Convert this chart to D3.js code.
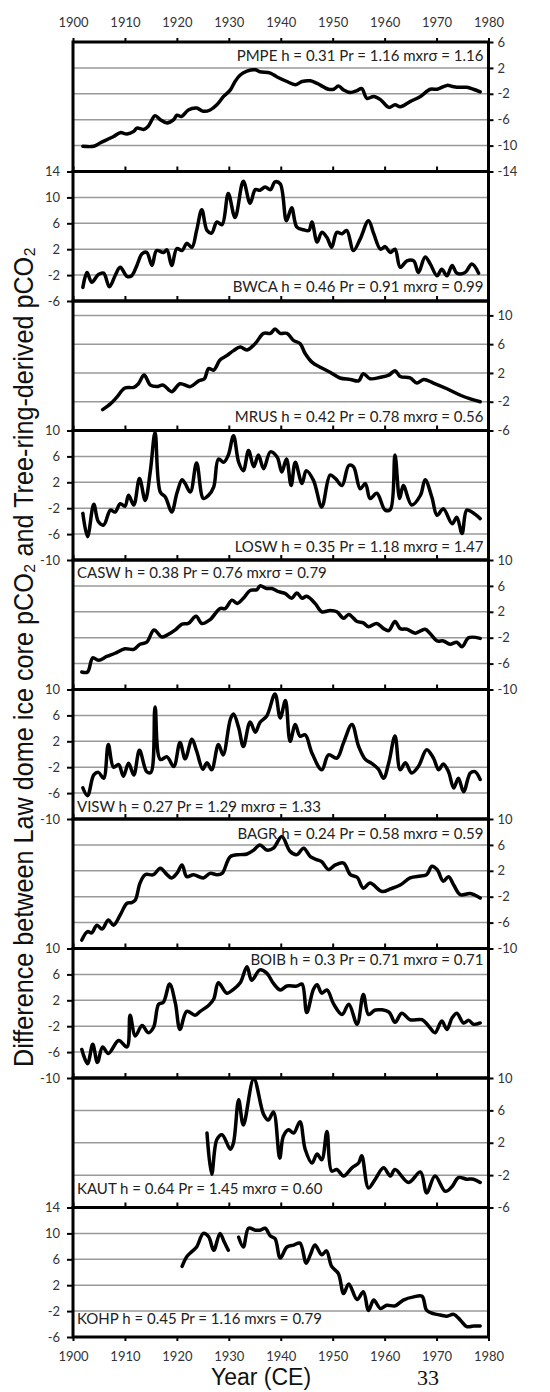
<!DOCTYPE html>
<html>
<head>
<meta charset="utf-8">
<script src="https://cdn.jsdelivr.net/npm/d3@7"></script>
<style>
  body { margin: 0; background: #fff; }
</style>
</head>
<body>
<svg id="chart" width="550" height="1392"></svg>
<script>
// series values: [year, difference in ppm]
const pmpe = [[1901.9,-10.1],[1904.0,-10.1],[1905.2,-9.6],[1907.8,-8.6],[1909.1,-8.0],[1910.4,-8.2],[1911.7,-7.8],[1912.3,-7.3],[1913.6,-7.5],[1914.5,-7.0],[1915.8,-5.4],[1916.8,-6.0],[1918.1,-6.5],[1919.4,-6.0],[1920.0,-5.3],[1920.9,-5.5],[1922.2,-4.5],[1923.8,-4.2],[1925.1,-4.7],[1926.4,-4.5],[1927.7,-3.7],[1929.0,-2.4],[1930.3,-1.4],[1931.2,-0.1],[1932.2,0.9],[1933.5,1.5],[1935.1,1.7],[1936.0,1.4],[1938.0,1.2],[1939.3,0.6],[1941.2,-0.1],[1942.8,-0.6],[1944.1,-0.1],[1945.7,0.0],[1947.0,-0.4],[1949.2,-1.3],[1950.2,-1.3],[1951.1,-0.8],[1952.1,-1.4],[1953.4,-1.8],[1954.7,-1.5],[1955.6,-1.2],[1956.6,-2.7],[1957.9,-2.4],[1959.2,-2.9],[1960.8,-4.1],[1962.0,-3.7],[1963.0,-4.0],[1964.9,-3.2],[1966.9,-2.4],[1968.8,-1.3],[1970.1,-1.3],[1972.0,-0.7],[1973.3,-0.9],[1974.6,-1.0],[1975.8,-1.0],[1977.1,-1.3],[1978.4,-1.7]];
const bwca = [[1901.9,-3.9],[1902.7,-1.6],[1903.6,-3.1],[1904.9,-1.9],[1905.9,-1.7],[1907.0,-3.8],[1908.1,-2.1],[1909.1,-0.8],[1910.4,-2.2],[1911.3,-2.1],[1912.3,-0.5],[1913.3,1.3],[1914.2,1.5],[1915.2,-0.5],[1916.1,1.8],[1917.4,1.5],[1918.1,1.9],[1919.0,-0.5],[1920.0,2.1],[1921.0,1.8],[1921.9,2.9],[1922.9,2.3],[1923.8,4.9],[1924.8,8.1],[1925.8,4.9],[1926.7,4.5],[1927.7,6.2],[1928.7,5.8],[1929.9,10.6],[1931.2,6.9],[1932.8,12.5],[1934.1,9.1],[1935.1,11.2],[1936.0,11.1],[1937.0,11.6],[1938.0,11.2],[1938.9,12.4],[1939.9,12.1],[1941.1,6.4],[1942.1,8.4],[1943.1,5.4],[1944.4,5.0],[1945.4,4.9],[1946.0,6.2],[1947.0,3.1],[1947.9,4.6],[1948.9,3.8],[1949.8,2.3],[1950.8,4.6],[1951.8,4.4],[1952.7,4.9],[1954.0,1.8],[1955.3,3.6],[1956.9,6.4],[1957.9,4.4],[1959.2,2.0],[1960.1,2.4],[1961.1,1.5],[1962.0,2.0],[1963.0,-0.8],[1964.3,0.2],[1965.6,0.2],[1966.5,-1.6],[1967.8,0.8],[1968.8,-0.3],[1970.1,-2.1],[1971.0,-1.1],[1972.0,-2.1],[1973.0,-0.5],[1973.9,-1.7],[1975.5,-1.6],[1976.8,-0.3],[1978.1,-1.7]];
const mrus = [[1905.7,-3.1],[1907.2,-2.3],[1908.4,-1.4],[1910.0,-0.1],[1911.7,0.0],[1912.6,0.5],[1913.7,1.7],[1914.9,0.3],[1916.1,0.1],[1917.4,0.3],[1919.0,-0.6],[1920.6,0.5],[1922.6,0.1],[1924.2,0.9],[1925.3,1.2],[1926.1,2.6],[1927.1,2.4],[1928.3,3.8],[1929.6,4.4],[1930.9,5.1],[1932.2,5.6],[1933.5,5.2],[1935.1,6.1],[1936.7,7.5],[1938.0,7.5],[1938.9,8.1],[1939.9,7.5],[1941.2,7.5],[1942.5,6.5],[1943.7,6.1],[1944.7,4.7],[1946.0,3.5],[1947.6,2.8],[1949.5,2.1],[1951.4,1.3],[1953.4,1.1],[1955.0,0.9],[1955.9,1.9],[1957.2,1.2],[1959.2,1.4],[1960.8,1.7],[1962.0,2.3],[1963.0,1.5],[1964.9,1.3],[1966.2,0.6],[1967.5,1.1],[1969.4,0.6],[1972.0,-0.2],[1974.6,-1.1],[1976.5,-1.6],[1978.4,-2.0]];
const losw = [[1901.9,-2.8],[1902.8,-6.4],[1904.0,-1.4],[1904.9,-4.1],[1905.9,-4.6],[1907.2,-2.3],[1908.1,-2.6],[1909.1,-1.3],[1910.0,-1.7],[1910.7,0.0],[1911.7,-1.5],[1912.8,2.6],[1913.9,-0.8],[1914.9,3.8],[1915.8,9.7],[1916.8,0.5],[1917.8,-0.3],[1919.0,-2.6],[1920.0,0.3],[1921.0,2.4],[1921.6,1.8],[1922.6,0.5],[1923.8,5.0],[1925.1,-0.5],[1926.1,0.0],[1927.1,1.3],[1928.0,5.6],[1929.0,5.1],[1929.9,6.2],[1930.9,9.2],[1931.9,5.1],[1932.8,3.8],[1933.8,6.9],[1934.8,4.4],[1935.7,6.2],[1936.7,4.1],[1938.0,6.7],[1939.3,5.9],[1940.2,3.6],[1941.1,5.6],[1942.0,1.5],[1942.8,5.1],[1944.1,1.8],[1944.9,3.8],[1946.3,2.3],[1947.9,-1.8],[1949.5,3.1],[1950.5,2.6],[1951.8,1.5],[1953.1,4.6],[1954.0,4.4],[1955.3,1.0],[1956.3,1.8],[1957.2,-0.5],[1958.5,0.3],[1960.1,-2.3],[1961.1,-2.2],[1962.0,6.2],[1962.9,-0.5],[1963.6,1.5],[1965.2,-1.5],[1966.9,0.0],[1967.8,2.4],[1969.1,-0.3],[1970.1,-3.1],[1971.3,-2.1],[1973.0,-4.4],[1973.9,-3.4],[1974.9,-5.9],[1975.8,-2.3],[1976.8,-2.6],[1978.4,-3.6]];
const casw = [[1901.7,-7.3],[1902.8,-7.3],[1903.8,-5.1],[1904.9,-5.5],[1906.5,-4.9],[1908.1,-4.4],[1910.0,-3.7],[1911.7,-3.8],[1912.9,-3.0],[1914.2,-2.7],[1915.6,-0.8],[1917.1,-1.9],[1918.1,-1.6],[1919.7,-0.8],[1921.0,0.1],[1922.2,0.2],[1923.7,1.3],[1924.8,0.2],[1926.4,0.8],[1928.3,2.5],[1929.3,2.5],[1930.6,3.8],[1931.6,3.3],[1932.8,4.1],[1934.1,5.3],[1935.4,5.4],[1936.0,6.0],[1937.3,5.6],[1938.3,5.6],[1939.6,5.1],[1940.9,4.8],[1942.1,4.1],[1943.1,4.9],[1944.1,4.1],[1945.0,4.4],[1946.6,3.3],[1947.9,2.0],[1949.5,2.2],[1950.8,2.0],[1952.1,1.0],[1953.1,1.6],[1954.7,0.5],[1955.9,0.3],[1956.9,-0.3],[1958.5,0.2],[1959.8,-0.6],[1960.8,-0.9],[1962.0,0.5],[1963.0,-0.6],[1964.3,-0.7],[1965.9,-1.3],[1967.8,-0.7],[1968.8,-1.4],[1970.1,-2.5],[1971.3,-2.5],[1972.6,-3.0],[1973.9,-2.7],[1974.9,-3.4],[1976.2,-2.0],[1978.4,-2.1]];
const visw = [[1901.9,-5.2],[1902.8,-6.4],[1904.0,-3.2],[1904.9,-2.8],[1905.9,-3.7],[1906.8,1.5],[1907.8,-2.0],[1908.8,-1.6],[1909.7,-3.4],[1910.7,-1.4],[1911.7,-3.2],[1912.8,0.6],[1914.2,-2.7],[1915.0,-2.8],[1915.8,7.3],[1916.8,-0.8],[1918.1,-0.4],[1919.4,-1.9],[1920.6,1.8],[1921.6,-0.7],[1922.9,2.3],[1923.8,0.5],[1925.0,-2.3],[1925.8,-1.3],[1926.7,-2.4],[1928.0,1.5],[1928.9,-0.1],[1930.3,5.4],[1930.9,6.2],[1931.9,4.1],[1932.8,1.2],[1934.1,5.0],[1935.1,3.4],[1936.0,4.9],[1937.3,5.9],[1938.9,9.3],[1939.9,5.6],[1940.9,8.3],[1941.8,2.0],[1942.8,4.6],[1943.7,2.8],[1944.7,3.0],[1946.0,0.2],[1947.9,-2.4],[1949.2,-0.1],[1950.8,-0.6],[1952.1,1.8],[1953.7,4.6],[1955.0,1.2],[1956.3,-0.8],[1957.5,-1.4],[1958.8,-2.3],[1959.8,-3.7],[1960.8,-1.3],[1962.0,2.8],[1963.0,-2.4],[1964.0,-1.3],[1965.2,-2.9],[1966.5,-1.9],[1968.1,0.7],[1969.4,-0.6],[1970.4,-2.4],[1971.3,-1.5],[1972.3,-2.7],[1973.3,-5.2],[1974.2,-3.7],[1975.2,-5.8],[1976.5,-2.9],[1977.4,-2.7],[1978.4,-3.9]];
const bagr = [[1901.7,-8.7],[1902.8,-7.4],[1903.6,-7.6],[1904.6,-6.4],[1905.6,-7.0],[1906.8,-5.6],[1907.8,-6.4],[1909.1,-4.8],[1910.4,-3.0],[1911.3,-2.9],[1912.0,-2.5],[1912.9,0.1],[1913.9,1.4],[1915.5,1.4],[1916.8,2.4],[1918.1,1.4],[1919.0,0.9],[1920.0,1.6],[1921.0,2.9],[1921.9,1.1],[1923.2,1.4],[1925.1,0.9],[1926.4,1.6],[1927.7,1.4],[1928.7,1.6],[1930.3,4.2],[1932.2,4.5],[1933.5,4.6],[1934.8,5.2],[1936.0,6.0],[1937.3,5.2],[1938.6,5.5],[1940.2,7.3],[1941.8,5.0],[1943.1,4.5],[1944.4,5.5],[1945.7,4.2],[1947.0,3.7],[1947.9,3.4],[1949.2,2.2],[1950.5,2.9],[1952.1,3.2],[1953.4,1.4],[1954.7,1.0],[1955.9,-0.7],[1957.2,0.1],[1959.5,-1.2],[1961.1,-0.8],[1963.0,-0.2],[1964.9,0.9],[1966.9,1.2],[1968.1,1.4],[1969.1,2.7],[1970.1,2.2],[1971.3,0.4],[1972.3,1.1],[1973.3,-0.2],[1974.6,-1.7],[1976.5,-1.5],[1978.4,-2.2]];
const boib = [[1901.7,-5.6],[1902.8,-7.8],[1903.8,-4.8],[1904.7,-7.6],[1905.7,-5.2],[1906.8,-6.2],[1908.8,-4.2],[1910.4,-5.2],[1911.0,-0.3],[1912.0,-3.5],[1913.3,-1.9],[1914.5,-3.0],[1915.5,-2.2],[1916.5,1.4],[1917.4,1.7],[1918.6,4.5],[1919.7,1.6],[1920.6,-2.5],[1921.9,0.3],[1923.5,-0.3],[1924.5,0.3],[1926.1,1.2],[1927.1,2.2],[1928.0,4.7],[1929.6,3.1],[1930.9,3.7],[1932.2,4.7],[1933.5,7.2],[1934.4,5.1],[1936.0,6.7],[1937.3,6.2],[1938.6,4.6],[1939.9,3.6],[1941.2,4.2],[1943.1,4.2],[1944.1,4.5],[1945.0,0.1],[1946.3,3.7],[1947.0,4.4],[1947.9,3.1],[1948.9,3.6],[1950.2,1.4],[1951.8,-0.2],[1953.1,1.4],[1954.7,-1.7],[1955.9,2.9],[1956.9,-0.2],[1958.2,0.5],[1960.8,0.2],[1962.0,-1.4],[1963.3,0.0],[1964.9,-1.0],[1967.2,-1.0],[1968.5,-2.0],[1969.7,-3.0],[1971.0,-1.2],[1972.0,-2.5],[1973.0,-0.7],[1973.9,0.0],[1975.2,-1.5],[1976.2,-1.1],[1977.1,-1.7],[1978.4,-1.5]];
const kaut = [[1925.8,3.2],[1926.7,-1.9],[1927.7,2.4],[1928.7,3.0],[1930.3,1.2],[1930.9,2.0],[1931.9,7.3],[1932.8,4.2],[1934.8,9.9],[1936.7,5.5],[1937.6,4.8],[1938.6,5.8],[1939.8,0.1],[1940.5,2.8],[1941.5,3.6],[1942.5,3.2],[1943.7,4.6],[1944.7,1.2],[1946.0,-0.5],[1947.0,0.6],[1947.9,-0.1],[1948.9,3.4],[1949.8,-1.5],[1950.8,-1.3],[1952.1,-2.1],[1953.7,-1.1],[1955.0,-0.5],[1955.6,0.4],[1956.9,-3.6],[1958.2,-2.5],[1959.8,-1.1],[1961.1,-2.1],[1962.0,-1.3],[1964.6,-2.9],[1966.9,-1.6],[1968.1,-4.2],[1969.7,-2.1],[1971.7,-4.0],[1973.0,-3.4],[1974.2,-2.3],[1975.8,-2.5],[1977.1,-2.5],[1978.4,-2.9]];
const kohp = [[1921.0,4.9],[1921.9,6.4],[1922.9,7.2],[1923.8,7.9],[1925.1,10.0],[1926.1,9.5],[1927.1,7.4],[1928.3,10.0],[1929.1,8.7],[1929.9,7.4],[1930.9,null],[1931.9,9.4],[1932.8,7.9],[1933.8,10.8],[1935.1,10.5],[1936.0,10.5],[1937.0,10.8],[1938.0,9.6],[1938.9,9.2],[1939.9,6.2],[1941.2,7.9],[1942.5,8.2],[1943.7,8.5],[1944.9,5.4],[1945.7,6.7],[1946.6,8.2],[1947.9,6.7],[1948.8,7.3],[1949.8,4.9],[1951.1,3.8],[1952.1,0.7],[1953.1,2.2],[1954.7,-0.2],[1955.9,1.0],[1956.9,-1.9],[1957.9,-0.3],[1959.2,-1.6],[1960.4,-1.1],[1962.0,-1.2],[1963.6,-0.3],[1965.6,0.2],[1967.2,0.3],[1968.1,-1.9],[1969.4,-2.4],[1970.7,-2.6],[1972.0,-2.8],[1973.3,-2.5],[1974.6,-3.4],[1975.8,-4.4],[1977.1,-4.3],[1978.4,-4.3]];

const series = [pmpe, bwca, mrus, losw, casw, visw, bagr, boib, kaut, kohp];
const siteNotes = [
  'PMPE h = 0.31 Pr = 1.16 mxrσ = 1.16',
  'BWCA h = 0.46 Pr = 0.91 mxrσ = 0.99',
  'MRUS h = 0.42 Pr = 0.78 mxrσ = 0.56',
  'LOSW h = 0.35 Pr = 1.18 mxrσ = 1.47',
  'CASW h = 0.38 Pr = 0.76 mxrσ = 0.79',
  'VISW h = 0.27 Pr = 1.29 mxrσ = 1.33',
  'BAGR h = 0.24 Pr = 0.58 mxrσ = 0.59',
  'BOIB h = 0.3 Pr = 0.71 mxrσ = 0.71',
  'KAUT h = 0.64 Pr = 1.45 mxrσ = 0.60',
  'KOHP h = 0.45 Pr = 1.16 mxrs = 0.79'
];
const yDomains = [[-14, 6], [-6, 14], [-6, 12], [-10, 10], [-10, 10], [-10, 10], [-10, 10], [-10, 10], [-6, 10], [-6, 14]];
const yTicks = [
  [6, 2, -2, -6, -10, -14],
  [14, 10, 6, 2, -2, -6],
  [10, 6, 2, -2, -6],
  [10, 6, 2, -2, -6, -10],
  [10, 6, 2, -2, -6, -10],
  [10, 6, 2, -2, -6, -10],
  [10, 6, 2, -2, -6, -10],
  [10, 6, 2, -2, -6, -10],
  [10, 6, 2, -2, -6],
  [14, 10, 6, 2, -2, -6]
];
const yearTicks = [1900, 1910, 1920, 1930, 1940, 1950, 1960, 1970, 1980];
const yTitle = 'Difference between Law dome ice core pCO₂ and Tree-ring-derived pCO₂';
const xTitle = 'Year (CE)';
const pageNumber = '33';

// layout: axis side and where the note sits in each panel
const axisSide = ['right', 'left', 'right', 'left', 'right', 'left', 'right', 'left', 'right', 'left'];
const notePlace = [
  {anchor: 'end', from: 'top', dy: 19},
  {anchor: 'end', from: 'bottom', dy: -9.5},
  {anchor: 'end', from: 'bottom', dy: -9},
  {anchor: 'end', from: 'bottom', dy: -8.5},
  {anchor: 'start', from: 'top', dy: 17.5},
  {anchor: 'start', from: 'bottom', dy: -7.5},
  {anchor: 'end', from: 'top', dy: 19.5},
  {anchor: 'end', from: 'top', dy: 16},
  {anchor: 'start', from: 'bottom', dy: -13.5},
  {anchor: 'start', from: 'bottom', dy: -13}
];

const svg = d3.select('#chart');
const tickFont = 'Lato, "Open Sans", sans-serif';
const top0 = 42, panelH = 129.5;
const plain = d => String(d);   // hyphen minus, like the original

const x = d3.scaleLinear().domain([1900, 1980]).range([73, 488.5]);

function styleAxis(g) {
  g.select('.domain').remove();
  g.selectAll('.tick line').attr('stroke', '#000').attr('stroke-width', 2);
  g.selectAll('.tick text')
    .attr('fill', '#333')
    .style('font-family', tickFont)
    .style('font-size', '13px');
}

const line = d3.line()
  .defined(d => d[1] != null)
  .x(d => x(d[0]))
  .curve(d3.curveCatmullRom.alpha(0.5));

series.forEach(function(data, i) {
  const y0 = top0 + i * panelH, y1 = y0 + panelH;
  const y = d3.scaleLinear().domain(yDomains[i]).range([y1, y0]);
  const panel = svg.append('g').attr('class', 'panel');

  // grid lines, only inside the panel
  const inner = yTicks[i].filter(t => t > yDomains[i][0] && t < yDomains[i][1]);
  panel.append('g')
    .selectAll('line')
    .data(inner)
    .enter().append('line')
    .attr('x1', x(1900)).attr('x2', x(1980))
    .attr('y1', d => y(d)).attr('y2', d => y(d))
    .attr('stroke', '#999')
    .attr('stroke-width', 1.5);

  // series line
  panel.append('path')
    .datum(data)
    .attr('fill', 'none')
    .attr('stroke', '#000')
    .attr('stroke-width', 3.5)
    .attr('stroke-linejoin', 'round')
    .attr('stroke-linecap', 'round')
    .attr('d', line.y(d => y(d[1])));

  // y axis on alternating sides
  if (axisSide[i] === 'left') {
    panel.append('g')
      .attr('transform', `translate(${x(1900)},0)`)
      .call(d3.axisLeft(y).tickValues(yTicks[i]).tickSize(6).tickPadding(7).tickFormat(plain))
      .call(styleAxis);
  } else {
    panel.append('g')
      .attr('transform', `translate(${x(1980)},0)`)
      .call(d3.axisRight(y).tickValues(yTicks[i]).tickSize(5).tickPadding(4).tickFormat(plain))
      .call(styleAxis);
  }

  // year ticks on the bottom edge, pointing into the panel
  if (i < series.length - 1) {
    panel.append('g')
      .attr('transform', `translate(0,${y1})`)
      .call(d3.axisTop(x).tickValues(yearTicks).tickSize(5).tickFormat(''))
      .call(styleAxis);
  }

  // frame
  panel.append('rect')
    .attr('x', x(1900)).attr('y', y0)
    .attr('width', x(1980) - x(1900)).attr('height', panelH)
    .attr('fill', 'none')
    .attr('stroke', '#000')
    .attr('stroke-width', 3);

  // site note
  const p = notePlace[i];
  panel.append('text')
    .attr('x', p.anchor === 'end' ? x(1980) - 5 : x(1900) + 4)
    .attr('y', (p.from === 'top' ? y0 : y1) + p.dy)
    .attr('text-anchor', p.anchor)
    .style('font-family', tickFont)
    .style('font-size', '15px')
    .attr('fill', '#222')
    .text(siteNotes[i]);
});

// year axes top and bottom
svg.append('g')
  .attr('transform', `translate(0,${top0})`)
  .call(d3.axisTop(x).tickValues(yearTicks).tickSize(4).tickPadding(11).tickFormat(plain))
  .call(styleAxis);

svg.append('g')
  .attr('transform', `translate(0,${top0 + series.length * panelH})`)
  .call(d3.axisBottom(x).tickValues(yearTicks).tickSize(4).tickPadding(11).tickFormat(plain))
  .call(styleAxis);

// titles
svg.append('text')
  .attr('transform', 'translate(33,657) rotate(-90)')
  .attr('text-anchor', 'middle')
  .attr('textLength', 820)
  .attr('lengthAdjust', 'spacingAndGlyphs')
  .style('font-family', '"Liberation Sans", Arial, sans-serif')
  .style('font-size', '28px')
  .attr('fill', '#111')
  .text(yTitle);

svg.append('text')
  .attr('x', 261).attr('y', 1385)
  .attr('text-anchor', 'middle')
  .style('font-family', '"Liberation Sans", Arial, sans-serif')
  .style('font-size', '23px')
  .attr('fill', '#111')
  .text(xTitle);

svg.append('text')
  .attr('x', 428).attr('y', 1385)
  .attr('text-anchor', 'middle')
  .style('font-family', '"Liberation Serif", serif')
  .style('font-size', '22px')
  .attr('fill', '#111')
  .text(pageNumber);
</script>
</body>
</html>
